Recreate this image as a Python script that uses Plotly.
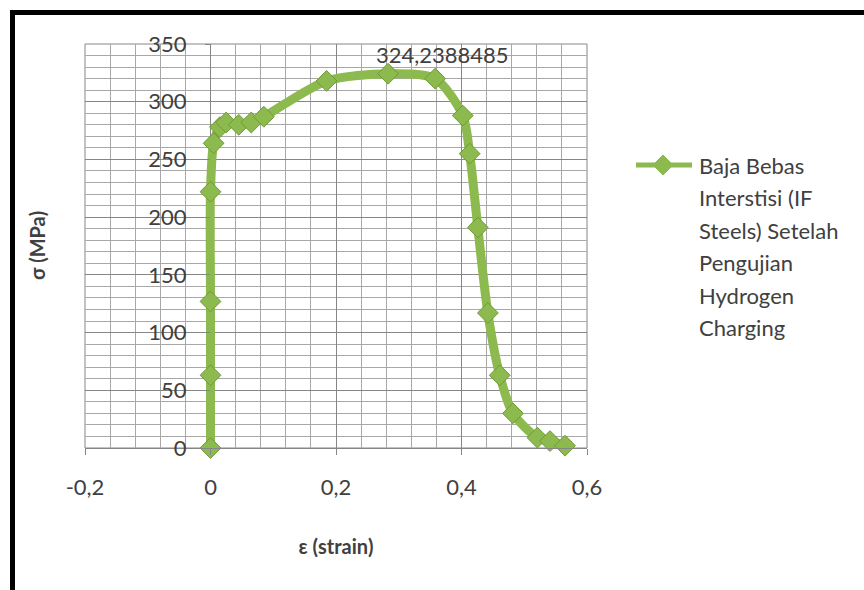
import plotly.graph_objects as go

# Stress-strain data (strain in mm/mm, stress in MPa)
strain = [0, 0, 0, 0, 0.005, 0.015, 0.025, 0.045, 0.065, 0.085, 0.185,
          0.283, 0.358, 0.402, 0.413, 0.426, 0.442, 0.461, 0.482, 0.521,
          0.541, 0.565]
stress = [0, 63, 127, 222, 264, 278, 282, 280, 282, 287, 318,
          324.2388485, 320, 288, 255, 191, 117, 63, 30, 9,
          6, 2]

series_name_lines = ["Baja Bebas", "Interstisi (IF", "Steels) Setelah",
                     "Pengujian", "Hydrogen", "Charging"]
x_ticks = [-0.2, 0, 0.2, 0.4, 0.6]
x_tick_labels = ["-0,2", "0", "0,2", "0,4", "0,6"]
y_ticks = [0, 50, 100, 150, 200, 250, 300, 350]
y_tick_labels = ["0", "50", "100", "150", "200", "250", "300", "350"]

FONT = "Lato"
TXT = "#404040"
GREEN = "#8DBA4E"
GREEN_DARK = "#6F9A36"
GRID = "#868686"
GRID_MINOR = "#a8a8a8"

W, H = 864, 590
ML, MR, MT, MB = 85, 277, 44, 142
PW, PH = W - ML - MR, H - MT - MB


def px_x(p):
    return (p - ML) / PW


def px_y(p):
    return (H - MB - p) / PH


fig = go.Figure()
fig.add_trace(go.Scatter(
    x=strain, y=stress, mode="lines+markers",
    line=dict(color=GREEN, width=9, shape="spline", smoothing=0.8),
    marker=dict(symbol="diamond", size=16, color=GREEN,
                line=dict(color=GREEN_DARK, width=1)),
    showlegend=False, cliponaxis=False,
))

# peak value label
i_peak = stress.index(max(stress))
fig.add_annotation(
    x=0.369, y=340.5, xref="x", yref="y",
    text=f"{stress[i_peak]:.7f}".replace(".", ","),
    showarrow=False, font=dict(family=FONT, size=22, color=TXT),
    xanchor="center", yanchor="middle",
)

shapes = []
# plot-area frame
shapes.append(dict(type="rect", xref="paper", yref="paper", x0=0, x1=1, y0=0, y1=1,
                   line=dict(color=GRID, width=1), layer="below"))
# outer chart frame (left and top edges)
shapes.append(dict(type="path", xref="paper", yref="paper",
                   path=f"M {px_x(12.5)} {px_y(600)} L {px_x(12.5)} {px_y(12.5)} L {px_x(880)} {px_y(12.5)}",
                   line=dict(color="#000000", width=5)))

# legend entry
ly = 165
shapes.append(dict(type="line", xref="paper", yref="paper",
                   x0=px_x(636), x1=px_x(692), y0=px_y(ly), y1=px_y(ly),
                   line=dict(color=GREEN, width=5)))
d = 10
shapes.append(dict(type="path", xref="paper", yref="paper",
                   path=(f"M {px_x(663 - d)} {px_y(ly)} L {px_x(663)} {px_y(ly - d)} "
                         f"L {px_x(663 + d)} {px_y(ly)} L {px_x(663)} {px_y(ly + d)} Z"),
                   fillcolor=GREEN, line=dict(color=GREEN, width=1)))
for k, line_txt in enumerate(series_name_lines):
    fig.add_annotation(
        x=px_x(697), y=px_y(ly + k * 32.5), xref="paper", yref="paper",
        text=line_txt, showarrow=False, xanchor="left", yanchor="middle",
        font=dict(family=FONT, size=22, color=TXT),
    )

# y-axis title
fig.add_annotation(
    x=px_x(37), y=0.5, xref="paper", yref="paper", text="<b>σ (MPa)</b>",
    textangle=-90, showarrow=False, xanchor="center", yanchor="middle",
    font=dict(family=FONT, size=20, color=TXT),
)

fig.update_layout(
    width=W, height=H,
    margin=dict(l=ML, r=MR, t=MT, b=MB, pad=0),
    paper_bgcolor="white", plot_bgcolor="white",
    font=dict(family=FONT, size=22, color=TXT),
    shapes=shapes,
    xaxis=dict(
        range=[-0.2, 0.6], tickvals=x_ticks, ticktext=x_tick_labels,
        showgrid=True, gridcolor=GRID, gridwidth=1,
        minor=dict(dtick=0.04, showgrid=True, gridcolor=GRID_MINOR, gridwidth=1),
        ticks="outside", ticklen=6, tickcolor=GRID,
        showline=True, linecolor=GRID, zeroline=False,
        title=dict(text="<b>ε (strain)</b>", font=dict(family=FONT, size=20, color=TXT),
                   standoff=40),
        tickfont=dict(family=FONT, size=22, color=TXT),
        ticklabelstandoff=14,
    ),
    yaxis=dict(
        range=[0, 350], tickvals=y_ticks, ticktext=y_tick_labels,
        anchor="free", position=px_x(210),
        showgrid=True, gridcolor=GRID, gridwidth=1,
        minor=dict(dtick=10, showgrid=True, gridcolor=GRID_MINOR, gridwidth=1),
        ticks="outside", ticklen=5, tickcolor=GRID,
        showline=False, zeroline=False,
        tickfont=dict(family=FONT, size=22, color=TXT),
        ticklabelstandoff=14,
    ),
)

fig.write_html("out.html")
